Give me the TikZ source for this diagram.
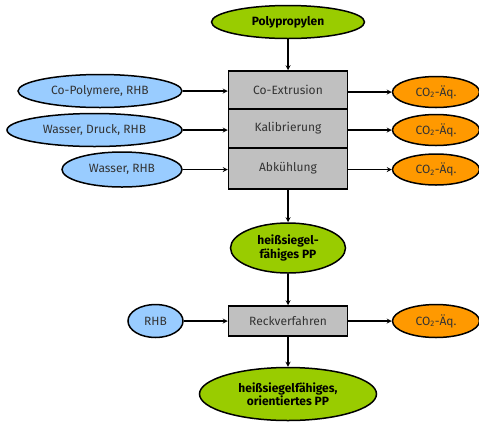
\documentclass[tikz,border=0pt]{standalone}
\usepackage{fontspec}
\setmainfont{Fira Sans}
\usetikzlibrary{shapes.geometric}

\definecolor{pgreen}{HTML}{99CC00}
\definecolor{pblue}{HTML}{99CCFF}
\definecolor{porange}{HTML}{FF9900}
\definecolor{pgray}{HTML}{C0C0C0}
\definecolor{ptext}{HTML}{333333}

\begin{document}
\begin{tikzpicture}[x=1pt,y=-1pt,thick,font=\fontsize{12}{13.5}\selectfont,
  prod/.style={ellipse,draw,line width=1.5pt,fill=pgreen,inner sep=0pt,font=\fontsize{12}{13.5}\selectfont\bfseries,align=center},
  inp/.style={ellipse,draw,line width=1.5pt,fill=pblue,text=ptext,inner sep=0pt,minimum height=33pt},
  outp/.style={ellipse,draw,line width=1.5pt,fill=porange,text=ptext,inner sep=0pt,minimum width=87pt,minimum height=31pt},
  proc/.style={rectangle,draw,line width=1.5pt,fill=pgray,text=ptext,inner sep=0pt,minimum width=119pt},
  flow/.style={-stealth,line width=1.2pt}]
 \useasboundingbox (0,0) rectangle (479,421);
 % main chain
 \node[prod,minimum width=153pt,minimum height=33pt] (poly) at (288,22) {Polypropylen};
 \node[proc,minimum height=38pt] (ext) at (288,90) {Co-Extrusion};
 \node[proc,minimum height=39pt] (kal) at (288,128.5) {Kalibrierung};
 \node[proc,minimum height=41pt] (abk) at (288,168.5) {Abkühlung};
 \node[prod,minimum width=115pt,minimum height=50pt] (pp) at (288,248) {heißsiegel-\\fähiges PP};
 \node[proc,minimum height=30pt] (reck) at (288,321) {Reckverfahren};
 \node[prod,minimum width=177pt,minimum height=53pt] (opp) at (288,394) {heißsiegelfähiges,\\orientiertes PP};
 % inputs
 \node[inp,minimum width=164pt] (copo) at (100,91) {Co-Polymere, RHB};
 \node[inp,minimum width=175pt] (wdr) at (94.5,130) {Wasser, Druck, RHB};
 \node[inp,minimum width=120pt,minimum height=35pt] (wrhb) at (122,169.5) {Wasser, RHB};
 \node[inp,minimum width=55pt] (rhb) at (155.5,321) {RHB};
 % emissions
 \node[outp] (co1) at (436,92) {CO\textsubscript{2}-Äq.};
 \node[outp] (co2) at (436,130) {CO\textsubscript{2}-Äq.};
 \node[outp] (co3) at (436,169.5) {CO\textsubscript{2}-Äq.};
 \node[outp,minimum height=33pt] (co4) at (436,321) {CO\textsubscript{2}-Äq.};

 \draw[flow] (poly) -- (ext);
 \draw[flow] (abk) -- (pp);
 \draw[flow] (pp) -- (reck);
 \draw[flow] (reck) -- (opp);
 \draw[flow] (copo) -- (copo-|ext.west);
 \draw[flow] (wdr) -- (wdr-|kal.west);
 \draw[flow] (wrhb) -- (wrhb-|abk.west);
 \draw[flow] (rhb) -- (reck);
 \draw[flow] (co1-|ext.east) -- (co1);
 \draw[flow] (co2-|kal.east) -- (co2);
 \draw[flow] (co3-|abk.east) -- (co3);
 \draw[flow] (reck) -- (co4);
\end{tikzpicture}
\end{document}
